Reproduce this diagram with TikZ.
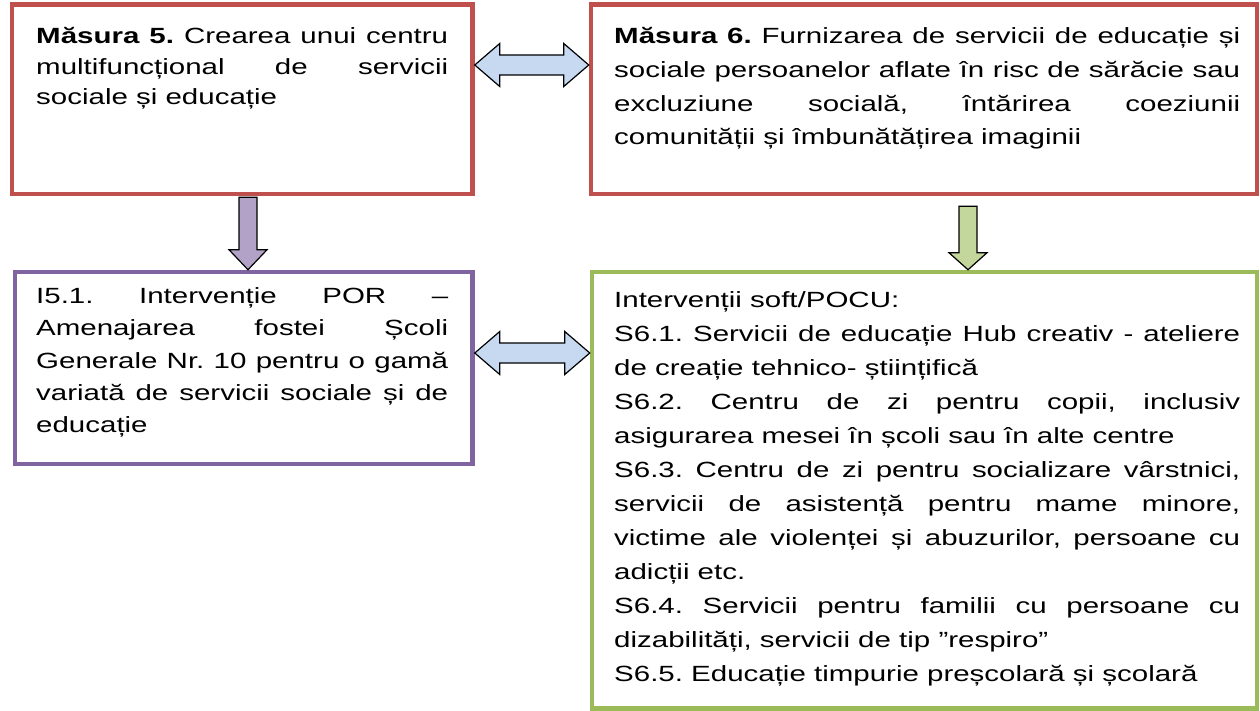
\documentclass[tikz,border=0pt]{standalone}
\usepackage{fontspec}
\setmainfont{Liberation Sans}[FakeStretch=1.34]
\usetikzlibrary{calc}
\tikzset{>=latex}
\definecolor{redline}{HTML}{C0504D}
\definecolor{purpleline}{HTML}{8064A2}
\definecolor{greenline}{HTML}{9BBB59}
\definecolor{bluefill}{HTML}{C6D9F1}
\definecolor{purplefill}{HTML}{B3A2C7}
\definecolor{greenfill}{HTML}{C3D69B}
\tikzset{
  mbox/.style={draw, line width=4.5pt, inner sep=0pt},
  mtext/.style={anchor=north west, inner sep=0pt, align=justify},
  blockarrow/.style={draw=black, line width=1.2pt, line join=miter},
}
\tolerance=10000
\hyphenpenalty=10000
\frenchspacing
\newcommand{\firstline}{\rule{0pt}{25pt}}

\begin{document}
\begin{tikzpicture}[x=1pt,y=-1pt]
  \useasboundingbox (0,0) rectangle (1260,711);

  % the four boxes
  \node[mbox, draw=redline, minimum width=460.5pt, minimum height=189.5pt] (m5) at (242.25,99.25) {};
  \node[mbox, draw=redline, minimum width=666pt, minimum height=189.5pt] (m6) at (924,99.25) {};
  \node[mbox, draw=purpleline, minimum width=457.5pt, minimum height=192pt] (i51) at (243.75,368) {};
  \node[mbox, draw=greenline, minimum width=665pt, minimum height=436.5pt] (s6) at (924.5,490.25) {};

  % texts
  \node[mtext, text width=412pt, font=\fontsize{22pt}{30.5pt}\selectfont\frenchspacing] (m5t) at (36,18.5)
    {\firstline\textbf{Măsura 5.} Crearea unui centru\linebreak
     multifuncțional de servicii\linebreak sociale și educație};
  \node[mtext, text width=626pt, font=\fontsize{22pt}{33.7pt}\selectfont\frenchspacing] (m6t) at (614,18.5)
    {\firstline\textbf{Măsura 6.} Furnizarea de servicii de educație și\linebreak
     sociale persoanelor aflate în risc de sărăcie sau\linebreak
     excluziune socială, întărirea coeziunii\linebreak
     comunității și îmbunătățirea imaginii};
  \node[mtext, text width=412pt, font=\fontsize{22pt}{32.2pt}\selectfont\frenchspacing] (i51t) at (36,278.5)
    {\firstline I5.1. Intervenție POR –\linebreak
     Amenajarea fostei Școli\linebreak
     Generale Nr. 10 pentru o gamă\linebreak
     variată de servicii sociale și de\linebreak
     educație};
  \node[mtext, text width=626pt, font=\fontsize{22pt}{34pt}\selectfont\frenchspacing] (s6t) at (614,282)
    {\firstline Intervenții soft/POCU:\par
     S6.1. Servicii de educație Hub creativ - ateliere\linebreak
     de creație tehnico- științifică\par
     S6.2. Centru de zi pentru copii, inclusiv\linebreak
     asigurarea mesei în școli sau în alte centre\par
     S6.3. Centru de zi pentru socializare vârstnici,\linebreak
     servicii de asistență pentru mame minore,\linebreak
     victime ale violenței și abuzurilor, persoane cu\linebreak
     adicții etc.\par
     S6.4. Servicii pentru familii cu persoane cu\linebreak
     dizabilități, servicii de tip ”respiro”\par
     S6.5. Educație timpurie preșcolară și școlară};

  % double arrows between the boxes
  \coordinate (a1) at (m5.east |- 0,65);
  \coordinate (b1) at (m6.west |- 0,65);
  \draw[blockarrow, fill=bluefill] (a1) -- ($(a1)+(25,-21.5)$) -- ($(a1)+(25,-10)$)
    -- ($(b1)+(-25,-10)$) -- ($(b1)+(-25,-21.5)$) -- (b1) -- ($(b1)+(-25,21.5)$)
    -- ($(b1)+(-25,10)$) -- ($(a1)+(25,10)$) -- ($(a1)+(25,21.5)$) -- cycle;
  \coordinate (a2) at (i51.east |- 0,353);
  \coordinate (b2) at (s6.west |- 0,353);
  \draw[blockarrow, fill=bluefill] (a2) -- ($(a2)+(25,-21.5)$) -- ($(a2)+(25,-10)$)
    -- ($(b2)+(-25,-10)$) -- ($(b2)+(-25,-21.5)$) -- (b2) -- ($(b2)+(-25,21.5)$)
    -- ($(b2)+(-25,10)$) -- ($(a2)+(25,10)$) -- ($(a2)+(25,21.5)$) -- cycle;

  % down arrows
  \coordinate (c1) at (m5.south -| 248,0);
  \coordinate (d1) at (i51.north -| 248,0);
  \draw[blockarrow, fill=purplefill] (c1) ++(-9,1) -- ($(d1)+(-9,-20)$) -- ($(d1)+(-19,-20)$)
    -- (d1) -- ($(d1)+(19,-20)$) -- ($(d1)+(9,-20)$) -- ($(c1)+(9,1)$) -- cycle;
  \coordinate (c2) at (m6.south -| 968,0);
  \coordinate (d2) at (s6.north -| 968,0);
  \draw[blockarrow, fill=greenfill] (c2) ++(-9,10) -- ($(d2)+(-9,-17)$) -- ($(d2)+(-19,-17)$)
    -- (d2) -- ($(d2)+(19,-17)$) -- ($(d2)+(9,-17)$) -- ($(c2)+(9,10)$) -- cycle;
\end{tikzpicture}
\end{document}
